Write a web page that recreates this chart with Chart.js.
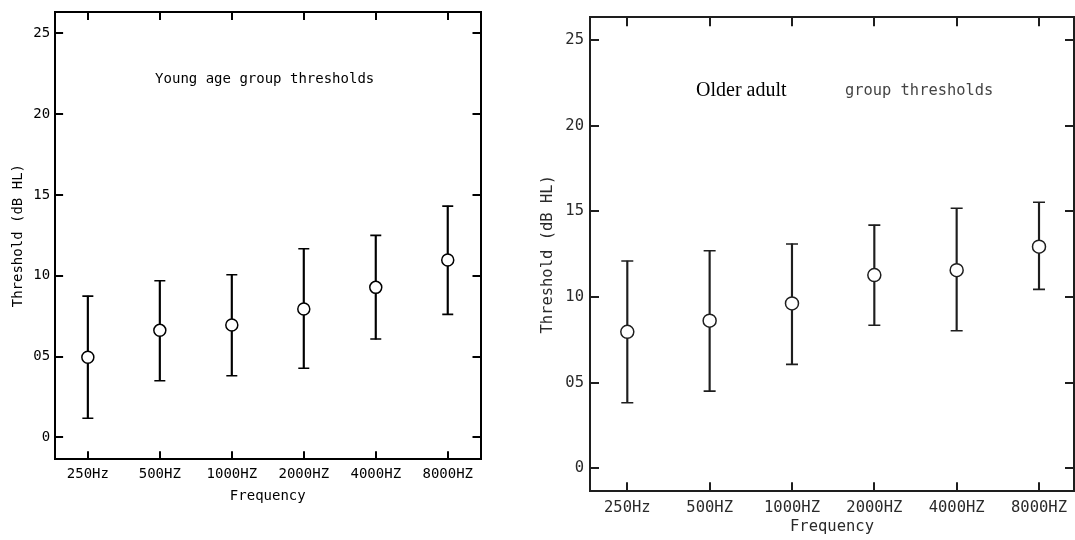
<!DOCTYPE html>
<html>
<head>
<meta charset="utf-8">
<script src="https://cdn.jsdelivr.net/npm/chart.js@4.4.1/dist/chart.umd.min.js"></script>
<style>
  html, body { margin: 0; padding: 0; background: #fff; width: 1075px; height: 540px; overflow: hidden; }
  canvas { position: absolute; top: 0; }
  #c1 { left: 0px; }
  #c2 { left: 530px; }
  .note { position: absolute; white-space: nowrap; }
</style>
</head>
<body>
<canvas id="c1" width="520" height="540"></canvas>
<canvas id="c2" width="560" height="540"></canvas>
<div class="note" style="left:114.7px; width:300px; top:70px; text-align:center; font:14px 'DejaVu Sans Mono'; line-height:16px; color:#000;">Young age group thresholds</div>
<div class="note" style="left:696px; top:79.3px; font:20px 'Liberation Serif'; line-height:20px; color:#000;">Older adult</div>
<div class="note" style="left:845px; top:80.7px; font:15.4px 'DejaVu Sans Mono'; line-height:18px; color:#444;">group thresholds</div>
<script>
// ---- data ----
const categories = ['250Hz', '500HZ', '1000HZ', '2000HZ', '4000HZ', '8000HZ'];
const yTickValues = [0, 5, 10, 15, 20, 25];
const yTickLabels = ['0', '05', '10', '15', '20', '25'];

const youngMean = [4.95, 6.62, 6.95, 7.94, 9.28, 10.97];
const youngLow  = [1.18, 3.50, 3.81, 4.27, 6.08, 7.61];
const youngHigh = [8.74, 9.69, 10.06, 11.67, 12.50, 14.31];

const olderMean = [7.97, 8.62, 9.63, 11.28, 11.57, 12.94];
const olderLow  = [3.83, 4.51, 6.07, 8.35, 8.03, 10.45];
const olderHigh = [12.10, 12.70, 13.10, 14.20, 15.18, 15.53];

const xTitle = 'Frequency';
const yTitle = 'Threshold (dB HL)';

function makeChart(canvasId, mean, low, high, s) {
  const xTicks = (sc) => { sc.ticks = categories.map((c, i) => ({ value: i })); };
  const yTicks = (sc) => { sc.ticks = yTickValues.map(v => ({ value: v })); };
  const grid = { display: true, offset: false, drawOnChartArea: false, drawTicks: true, tickLength: -s.tick, lineWidth: 2, color: s.line };
  const border = { display: true, color: s.line, width: 2 };
  const font = { family: 'DejaVu Sans Mono', size: s.fontSize };
  const zeroPad = (sc) => { sc.paddingLeft = 0; sc.paddingRight = 0; sc.paddingTop = 0; sc.paddingBottom = 0; };

  return new Chart(document.getElementById(canvasId), {
    type: 'scatter',
    data: {
      datasets: [
        {
          type: 'scatter', order: 0,
          data: mean.map((v, i) => ({ x: i, y: v })),
          pointStyle: 'circle', radius: s.markerR, hoverRadius: s.markerR,
          backgroundColor: '#fff', borderColor: s.line, borderWidth: 1.5
        },
        {
          type: 'scatter', order: 1,
          data: low.map((v, i) => ({ x: i, y: v })).concat(high.map((v, i) => ({ x: i, y: v }))),
          pointStyle: 'line', radius: s.capR, hoverRadius: s.capR,
          borderColor: s.line, borderWidth: 1.6
        },
        {
          type: 'bar', order: 2,
          data: low.map((v, i) => ({ x: i, y: [v, high[i]] })),
          backgroundColor: s.line, borderWidth: 0, barThickness: 1.5
        }
      ]
    },
    options: {
      responsive: false, animation: false, devicePixelRatio: 1,
      layout: { padding: s.pad },
      plugins: { legend: { display: false }, tooltip: { enabled: false }, title: { display: false } },
      scales: {
        x: {
          type: 'linear', position: 'bottom', offset: false,
          min: s.xmin, max: s.xmax,
          afterBuildTicks: xTicks,
          afterFit: (sc) => { sc.height = s.xAxisH; zeroPad(sc); },
          ticks: { callback: (v, i) => categories[i], autoSkip: false, maxRotation: 0, minRotation: 0,
                   padding: s.xTickPad, color: s.text, font: font },
          grid: grid, border: border,
          title: { display: true, text: xTitle, color: s.text, font: font, padding: { top: 0, bottom: s.xTitlePad } }
        },
        x2: {
          type: 'linear', position: 'top', offset: false,
          min: s.xmin, max: s.xmax,
          afterBuildTicks: xTicks,
          afterFit: (sc) => { sc.height = 0; zeroPad(sc); },
          ticks: { display: false },
          grid: grid, border: border
        },
        y: {
          type: 'linear', position: 'left',
          min: s.ymin, max: s.ymax,
          afterBuildTicks: yTicks,
          afterFit: (sc) => { sc.width = s.yAxisW; zeroPad(sc); },
          ticks: { callback: (v, i) => yTickLabels[i], autoSkip: false, padding: s.yTickPad, color: s.text, font: font },
          grid: grid, border: border,
          title: { display: true, text: yTitle, color: s.text, font: font, padding: { top: s.yTitlePad, bottom: 0 } }
        },
        y2: {
          type: 'linear', position: 'right',
          min: s.ymin, max: s.ymax,
          afterBuildTicks: yTicks,
          afterFit: (sc) => { sc.width = 0; zeroPad(sc); },
          ticks: { display: false },
          grid: grid, border: border
        }
      }
    }
  });
}

makeChart('c1', youngMean, youngLow, youngHigh, {
  line: '#000', text: '#000', fontSize: 14, tick: 8,
  pad: { left: 0, top: 12, right: 39.5, bottom: 0 },
  xAxisH: 80.7, yAxisW: 55.1,
  xmin: -0.455, xmax: 5.455, ymin: -1.36, ymax: 26.32,
  xTickPad: 14.3, xTitlePad: 35.6, yTickPad: 13, yTitlePad: 9.9,
  markerR: 6, capR: 5.5
});

makeChart('c2', olderMean, olderLow, olderHigh, {
  line: '#1e1e1e', text: '#2a2a2a', fontSize: 15.5, tick: 9,
  pad: { left: 0, top: 17.3, right: 16, bottom: 0 },
  xAxisH: 48.7, yAxisW: 60,
  xmin: -0.453, xmax: 5.425, ymin: -1.34, ymax: 26.33,
  xTickPad: 16.4, xTitlePad: 3.7, yTickPad: 15, yTitlePad: 8.7,
  markerR: 6.5, capR: 6
});
</script>
</body>
</html>
